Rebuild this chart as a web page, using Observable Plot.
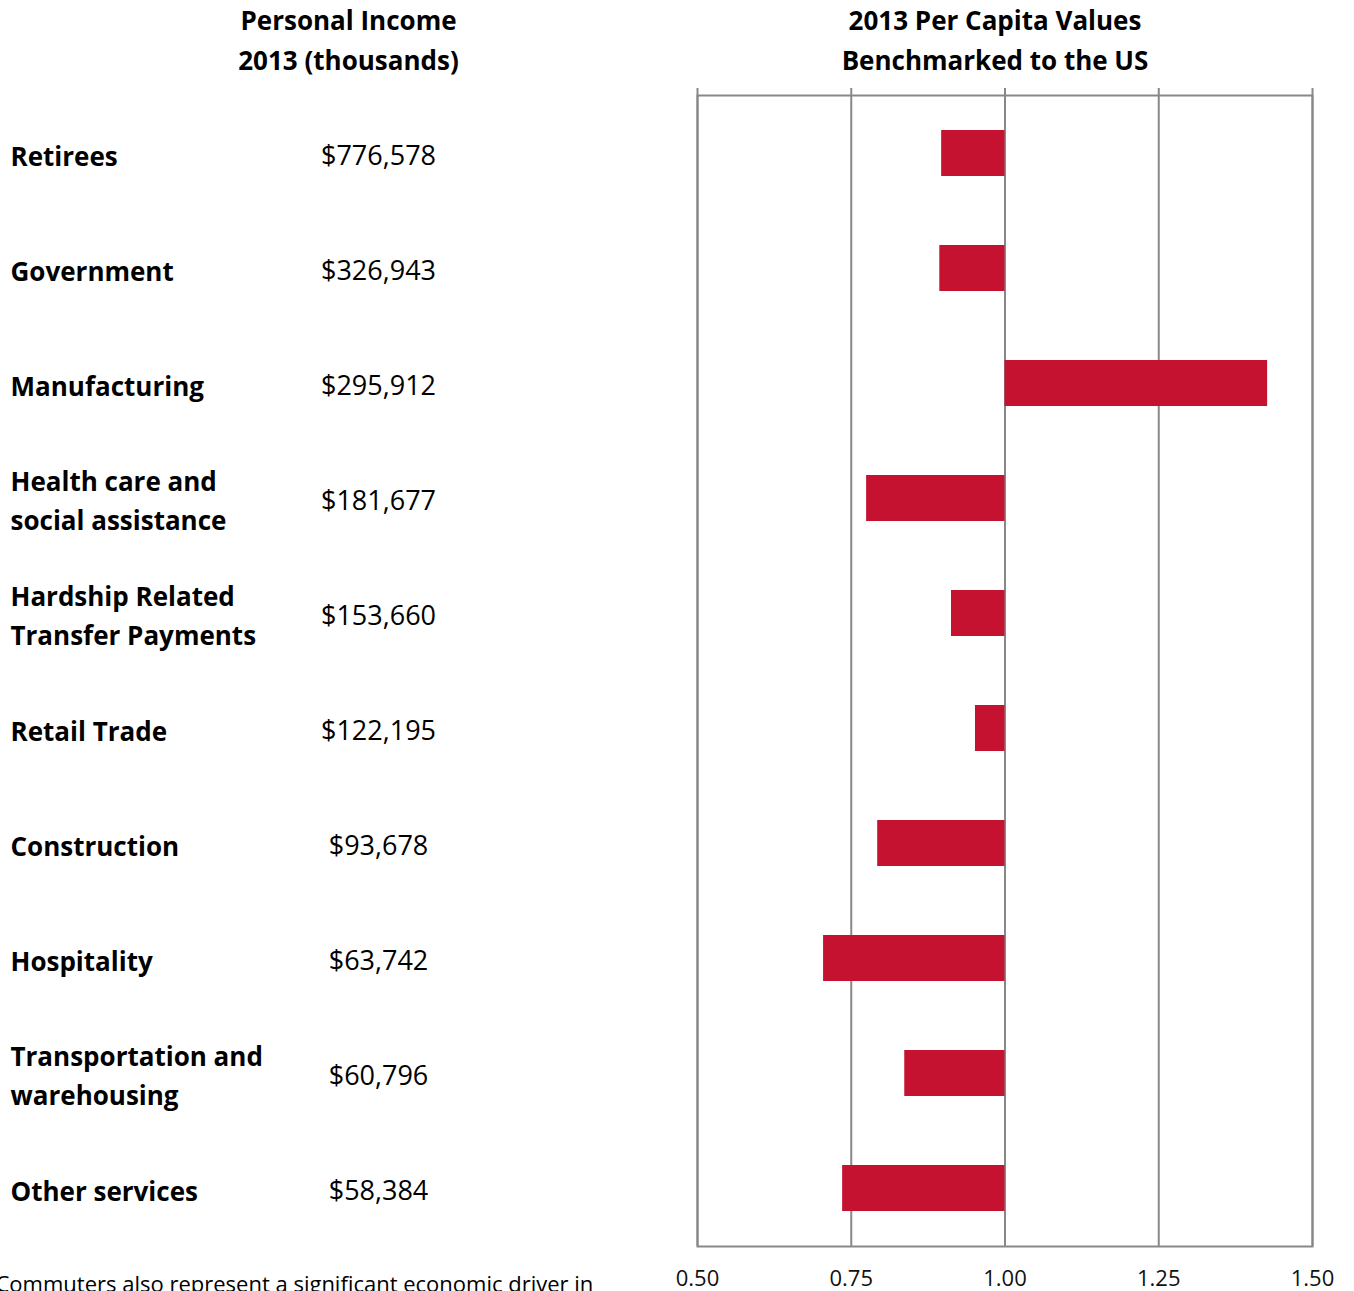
<!DOCTYPE html>
<html>
<head>
<meta charset="utf-8">
<script src="https://cdn.jsdelivr.net/npm/d3@7"></script>
<script src="https://cdn.jsdelivr.net/npm/@observablehq/plot@0.6"></script>
<style>
  html, body { margin: 0; padding: 0; background: #fff; }
  #chart svg { display: block; }
</style>
</head>
<body>
<div id="chart"></div>
<script>
const categories = [
  "Retirees",
  "Government",
  "Manufacturing",
  "Health care and\nsocial assistance",
  "Hardship Related\nTransfer Payments",
  "Retail Trade",
  "Construction",
  "Hospitality",
  "Transportation and\nwarehousing",
  "Other services"
];
const income = [776578, 326943, 295912, 181677, 153660, 122195, 93678, 63742, 60796, 58384];
const benchmark = [0.897, 0.894, 1.427, 0.775, 0.913, 0.952, 0.793, 0.705, 0.837, 0.736];
const xTicks = [0.5, 0.75, 1.0, 1.25, 1.5];
const leftTitle = "Personal Income\n2013 (thousands)";
const rightTitle = "2013 Per Capita Values\nBenchmarked to the US";
const note = "Commuters also represent a significant economic driver in";

const rows = categories.map((c, i) => ({category: c, income: income[i], value: benchmark[i]}));
const fmt = d3.format("$,");
const FONT = "'Open Sans', Lato, sans-serif";

const chart = Plot.plot({
  width: 1354,
  height: 1291,
  marginLeft: 697,
  marginRight: 42,
  marginTop: 95,
  marginBottom: 45,
  style: {fontFamily: FONT, color: "#000", background: "#fff"},
  x: {domain: [0.5, 1.5], axis: null},
  y: {domain: categories, axis: null, paddingInner: 0.6, paddingOuter: 0.3},
  marks: [
    Plot.ruleX(xTicks, {x: d => d, stroke: "#888", strokeWidth: 2, insetTop: -7}),
    Plot.frame({stroke: "#888", strokeWidth: 2}),
    Plot.barX(rows, {y: "category", x1: 1, x2: "value", fill: "#C41230"}),
    Plot.axisX({ticks: xTicks, tickFormat: d3.format(".2f"), tickSize: 0, tickPadding: 24, fontSize: 22, fill: "#111", anchor: "bottom", label: null}),
    Plot.text(rows, {y: "category", text: "category", frameAnchor: "left", dx: -687, textAnchor: "start", fontWeight: "bold", fontSize: 26, lineHeight: 1.5, fill: "#000"}),
    Plot.text(rows, {y: "category", text: d => fmt(d.income), frameAnchor: "left", dx: -319, dy: 3, textAnchor: "middle", fontSize: 27, fill: "#000"}),
    Plot.text([leftTitle], {text: d => d, frameAnchor: "top-left", dx: -349, dy: -58, lineAnchor: "middle", textAnchor: "middle", fontWeight: "bold", fontSize: 26, lineHeight: 1.54, fill: "#000"}),
    Plot.text([rightTitle], {text: d => d, frameAnchor: "top", dx: -10, dy: -58, lineAnchor: "middle", textAnchor: "middle", fontWeight: "bold", fontSize: 26, lineHeight: 1.54, fill: "#000"}),
    Plot.text([note], {text: d => d, frameAnchor: "bottom-left", dx: -702, dy: 38, textAnchor: "start", lineAnchor: "middle", fontSize: 22, fill: "#000"})
  ]
});
document.getElementById("chart").appendChild(chart);
</script>
</body>
</html>
